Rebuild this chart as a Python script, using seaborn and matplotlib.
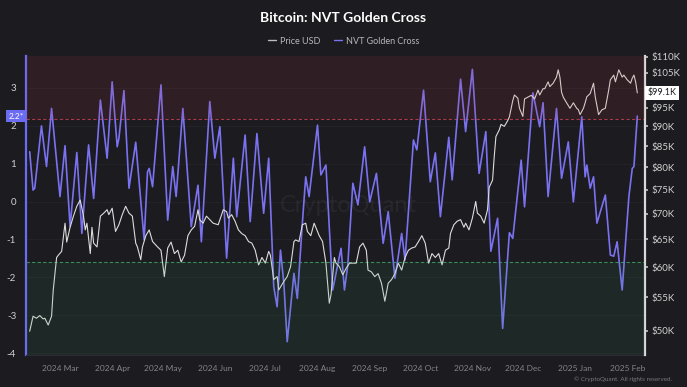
"""
    Bitcoin price vs NVT Golden Cross, dark CryptoQuant style chart.
"""

import pandas as pd
import matplotlib
matplotlib.use('Agg')
import matplotlib.pyplot as plt
import matplotlib.dates as mdates
import matplotlib.ticker as mticker
from matplotlib import transforms
from matplotlib.lines import Line2D
from matplotlib.patches import Rectangle
import seaborn as sns

# NVT Golden Cross (left axis)
nvt_dates = [
    '2024-02-12', '2024-02-14', '2024-02-15', '2024-02-19', '2024-02-22', '2024-02-25',
    '2024-03-01', '2024-03-04', '2024-03-07', '2024-03-11', '2024-03-14', '2024-03-18',
    '2024-03-21', '2024-03-25', '2024-03-29', '2024-04-01', '2024-04-04', '2024-04-05',
    '2024-04-08', '2024-04-11', '2024-04-15', '2024-04-20', '2024-04-22', '2024-04-23',
    '2024-04-25', '2024-04-30', '2024-05-04', '2024-05-07', '2024-05-09', '2024-05-13',
    '2024-05-18', '2024-05-22', '2024-05-24', '2024-05-29', '2024-06-01', '2024-06-04',
    '2024-06-08', '2024-06-12', '2024-06-14', '2024-06-19', '2024-06-22', '2024-06-26',
    '2024-06-30', '2024-07-03', '2024-07-06', '2024-07-08', '2024-07-10', '2024-07-12',
    '2024-07-14', '2024-07-18', '2024-07-20', '2024-07-23', '2024-07-25', '2024-07-27',
    '2024-08-01', '2024-08-03', '2024-08-06', '2024-08-10', '2024-08-15', '2024-08-17',
    '2024-08-19', '2024-08-22', '2024-08-25', '2024-08-29', '2024-09-01', '2024-09-05',
    '2024-09-09', '2024-09-12', '2024-09-16', '2024-09-20', '2024-09-22', '2024-09-27',
    '2024-09-29', '2024-10-03', '2024-10-07', '2024-10-10', '2024-10-13', '2024-10-18',
    '2024-10-20', '2024-10-25', '2024-10-28', '2024-11-01', '2024-11-05', '2024-11-09',
    '2024-11-12', '2024-11-16', '2024-11-19', '2024-11-23', '2024-11-25', '2024-11-30',
    '2024-12-02', '2024-12-07', '2024-12-11', '2024-12-13', '2024-12-16', '2024-12-21',
    '2024-12-24', '2024-12-28', '2024-12-31', '2025-01-05', '2025-01-07', '2025-01-08',
    '2025-01-10', '2025-01-12', '2025-01-14', '2025-01-19', '2025-01-22', '2025-01-24',
    '2025-01-26', '2025-01-29', '2025-02-02', '2025-02-04', '2025-02-05', '2025-02-07',
]
nvt_values = [
    1.31, 0.30, 0.35, 1.99, 0.92, 2.45,
    0.13, 1.47, -0.66, 1.29, -0.84, 1.49,
    0.08, 2.67, 1.14, 3.15, 1.44, 1.66,
    2.92, 0.35, 1.56, -1.01, 0.78, 0.87,
    0.39, 3.07, -0.49, 0.92, 0.13, 2.45,
    -0.66, 0.43, -1.06, 2.63, 1.14, 1.97,
    -1.49, 1.14, -0.40, 1.75, -0.53, 1.79,
    -0.31, 1.14, -2.24, -2.77, -1.28, -2.15,
    -3.69, -1.89, -2.55, -0.57, 0.65, 0.13,
    2.01, 0.70, 0.96, -2.33, -1.23, -2.33,
    -1.67, 0.48, -0.09, 1.44, -0.01, 0.74,
    -1.10, -0.27, -2.02, -0.84, -1.54, 1.62,
    1.36, 2.93, 0.52, 1.28, -0.40, 1.69,
    0.57, 3.22, 1.84, 3.48, 0.74, 1.84,
    -1.31, -0.44, -3.34, -0.82, -0.97, 1.09,
    -0.14, 2.86, 1.97, 2.60, 0.13, 2.45,
    0.61, 1.57, -0.01, 2.23, 0.65, 0.96,
    0.35, 0.65, -0.57, 0.17, -1.41, -1.44,
    -1.06, -2.33, 0.13, 0.87, 0.92, 2.25,
]

# BTC price in thousands of USD (right axis)
price_dates = [
    '2024-02-12', '2024-02-14', '2024-02-16', '2024-02-18', '2024-02-20', '2024-02-21',
    '2024-02-23', '2024-02-25', '2024-02-26', '2024-02-28', '2024-02-29', '2024-03-02',
    '2024-03-04', '2024-03-05', '2024-03-07', '2024-03-09', '2024-03-11', '2024-03-13',
    '2024-03-15', '2024-03-16', '2024-03-17', '2024-03-19', '2024-03-20', '2024-03-21',
    '2024-03-23', '2024-03-25', '2024-03-27', '2024-03-29', '2024-03-30', '2024-04-01',
    '2024-04-03', '2024-04-05', '2024-04-07', '2024-04-09', '2024-04-11', '2024-04-13',
    '2024-04-15', '2024-04-16', '2024-04-18', '2024-04-19', '2024-04-21', '2024-04-23',
    '2024-04-25', '2024-04-28', '2024-04-30', '2024-05-02', '2024-05-04', '2024-05-06',
    '2024-05-08', '2024-05-10', '2024-05-12', '2024-05-14', '2024-05-16', '2024-05-18',
    '2024-05-20', '2024-05-22', '2024-05-23', '2024-05-25', '2024-05-27', '2024-05-29',
    '2024-05-31', '2024-06-03', '2024-06-06', '2024-06-08', '2024-06-09', '2024-06-11',
    '2024-06-13', '2024-06-15', '2024-06-17', '2024-06-19', '2024-06-21', '2024-06-23',
    '2024-06-25', '2024-06-27', '2024-06-29', '2024-07-01', '2024-07-03', '2024-07-04',
    '2024-07-06', '2024-07-08', '2024-07-09', '2024-07-12', '2024-07-14', '2024-07-16',
    '2024-07-18', '2024-07-19', '2024-07-21', '2024-07-23', '2024-07-25', '2024-07-26',
    '2024-07-28', '2024-07-30', '2024-07-31', '2024-08-02', '2024-08-04', '2024-08-06',
    '2024-08-08', '2024-08-09', '2024-08-11', '2024-08-12', '2024-08-14', '2024-08-16',
    '2024-08-18', '2024-08-20', '2024-08-22', '2024-08-24', '2024-08-26', '2024-08-28',
    '2024-08-30', '2024-08-31', '2024-09-02', '2024-09-04', '2024-09-06', '2024-09-08',
    '2024-09-10', '2024-09-12', '2024-09-14', '2024-09-16', '2024-09-18', '2024-09-20',
    '2024-09-22', '2024-09-24', '2024-09-26', '2024-09-28', '2024-09-30', '2024-10-02',
    '2024-10-04', '2024-10-06', '2024-10-08', '2024-10-10', '2024-10-12', '2024-10-14',
    '2024-10-16', '2024-10-18', '2024-10-19', '2024-10-21', '2024-10-23', '2024-10-25',
    '2024-10-27', '2024-10-28', '2024-10-30', '2024-11-01', '2024-11-03', '2024-11-04',
    '2024-11-06', '2024-11-08', '2024-11-10', '2024-11-11', '2024-11-13', '2024-11-14',
    '2024-11-15', '2024-11-17', '2024-11-18', '2024-11-20', '2024-11-22', '2024-11-23',
    '2024-11-25', '2024-11-26', '2024-11-28', '2024-11-29', '2024-12-01', '2024-12-02',
    '2024-12-04', '2024-12-06', '2024-12-08', '2024-12-10', '2024-12-11', '2024-12-13',
    '2024-12-14', '2024-12-16', '2024-12-17', '2024-12-19', '2024-12-21', '2024-12-22',
    '2024-12-23', '2024-12-24', '2024-12-25', '2024-12-27', '2024-12-29', '2024-12-31',
    '2025-01-02', '2025-01-03', '2025-01-04', '2025-01-06', '2025-01-07', '2025-01-08',
    '2025-01-10', '2025-01-12', '2025-01-13', '2025-01-14', '2025-01-15', '2025-01-17',
    '2025-01-19', '2025-01-21', '2025-01-22', '2025-01-24', '2025-01-25', '2025-01-27',
    '2025-01-29', '2025-01-30', '2025-02-01', '2025-02-03', '2025-02-04', '2025-02-05',
    '2025-02-06', '2025-02-07',
]
price_k = [
    49.9, 52.1, 51.8, 52.2, 51.7, 51.8,
    50.8, 52.1, 56.2, 61.7, 62.1, 62.8,
    68.1, 64.5, 67.3, 69.5, 71.5, 72.8,
    69.5, 66.8, 68.1, 62.4, 67.3, 64.3,
    63.6, 69.5, 70.1, 70.8, 69.8, 71.1,
    66.5, 67.8, 69.8, 71.5, 70.1, 69.5,
    64.3, 63.6, 61.3, 63.6, 65.7, 66.8,
    64.6, 63.6, 63.0, 58.4, 63.4, 64.5,
    62.4, 63.0, 60.9, 62.1, 65.7, 66.8,
    67.5, 70.8, 68.8, 68.1, 69.5, 68.8,
    68.1, 67.8, 70.8, 70.4, 69.1, 69.8,
    68.5, 66.8, 66.1, 65.7, 64.6, 64.3,
    63.0, 60.4, 61.7, 60.7, 62.8, 62.1,
    57.9, 58.4, 56.2, 57.6, 58.4, 60.1,
    64.6, 64.9, 64.6, 67.8, 68.1, 66.5,
    65.7, 68.1, 67.3, 65.7, 64.6, 60.7,
    54.1, 55.4, 61.7, 60.7, 60.1, 58.7,
    59.8, 60.7, 60.7, 60.7, 63.6, 64.3,
    63.0, 59.5, 59.2, 58.4, 58.9, 57.3,
    54.4, 57.3, 57.9, 58.9, 60.7, 59.5,
    61.7, 63.0, 63.4, 63.6, 64.6, 65.7,
    64.3, 60.7, 62.4, 61.7, 62.4, 60.4,
    63.0, 63.4, 66.1, 67.8, 68.5, 68.8,
    67.3, 68.1, 66.8, 69.1, 72.5, 70.1,
    69.5, 68.1, 70.8, 75.5, 77.1, 82.5,
    87.4, 89.1, 90.5, 90.0, 91.5, 92.5,
    96.9, 98.5, 97.6, 94.8, 92.6, 97.4,
    97.9, 98.4, 97.4, 99.9, 98.5, 100.3,
    100.3, 102.3, 100.9, 101.9, 103.7, 105.9,
    103.7, 99.3, 97.9, 96.3, 94.8, 96.3,
    94.8, 94.4, 93.1, 94.8, 96.3, 98.0,
    98.9, 101.9, 98.0, 95.5, 93.1, 94.4,
    94.8, 99.9, 102.9, 104.3, 102.3, 105.9,
    103.7, 104.3, 102.9, 101.9, 103.4, 104.3,
    102.3, 99.1,
]

nvt_ticks = [-4, -3, -2, -1, 0, 1, 2, 3]
# the $100K tick is hidden behind the last-value tag in the original
price_ticks = [50, 55, 60, 65, 70, 75, 80, 85, 90, 95, 105, 110]
month_ticks = pd.date_range('2024-03-01', '2025-02-01', freq='MS')

RED_LEVEL = 2.16
GREEN_LEVEL = -1.6

BG = '#1b1b20'
NVT_COLOR = '#7a72f0'
PRICE_COLOR = '#dcdcdc'


def plot_chart():
    sns.set_theme(style='dark')
    plt.rcParams['font.family'] = ['Lato', 'DejaVu Sans']
    plt.rcParams['axes.unicode_minus'] = False

    nvt_df = pd.DataFrame({'date': pd.to_datetime(nvt_dates), 'nvt': nvt_values})
    price_df = pd.DataFrame({'date': pd.to_datetime(price_dates), 'price': price_k})

    fig, ax = plt.subplots(figsize=(6.87, 3.87), dpi=100)
    fig.patch.set_facecolor(BG)
    ax.set_facecolor(BG)
    fig.subplots_adjust(left=0.0378, right=0.9389, bottom=0.0827, top=0.8553)
    ax2 = ax.twinx()

    # zone threshold lines
    ax.axhline(RED_LEVEL, color='#a83a4a', lw=0.8, ls=(0, (3, 2)), zorder=1)
    ax.axhline(GREEN_LEVEL, color='#3d8a58', lw=0.8, ls=(0, (3, 2)), zorder=1)

    sns.lineplot(data=nvt_df, x='date', y='nvt', ax=ax, color=NVT_COLOR,
                 linewidth=1.2, legend=False, zorder=3,
                 solid_joinstyle='round', solid_capstyle='round')
    sns.lineplot(data=price_df, x='date', y='price', ax=ax2, color=PRICE_COLOR,
                 linewidth=0.8, legend=False, zorder=3)

    ax.set_xlim(pd.Timestamp('2024-02-09 19:00'), pd.Timestamp('2025-02-11 14:00'))
    ax.set_ylim(-4.04, 3.83)
    ax2.set_yscale('log')
    ax2.set_ylim(46.6, 110.2)

    # shaded zones drawn above the lines (they tint them slightly)
    trans = transforms.blended_transform_factory(ax2.transAxes, ax.transData)
    ax2.add_patch(Rectangle((0, RED_LEVEL), 1, 10, transform=trans,
                            facecolor='#c03a3a', alpha=0.12, edgecolor='none', zorder=5))
    ax2.add_patch(Rectangle((0, -10), 1, 10 + GREEN_LEVEL, transform=trans,
                            facecolor='#3aa060', alpha=0.10, edgecolor='none', zorder=5))

    # axes styling
    ax.set_xlabel('')
    ax.set_ylabel('')
    ax2.set_ylabel('')
    ax.set_yticks(nvt_ticks)
    ax.set_xticks(month_ticks)
    ax.xaxis.set_major_formatter(mdates.DateFormatter('%Y %b'))
    ax.grid(axis='y', color='#24242a', lw=0.6)
    ax.grid(axis='x', visible=False)
    ax2.grid(False)

    ax2.yaxis.set_major_locator(mticker.FixedLocator(price_ticks))
    ax2.yaxis.set_minor_locator(mticker.NullLocator())
    ax2.yaxis.set_major_formatter(mticker.FuncFormatter(lambda v, _: f'${v:.0f}K'))

    ax.tick_params(axis='y', labelcolor='#d0d0d0', labelsize=7, length=0, pad=7)
    ax.tick_params(axis='x', labelcolor='#858585', labelsize=6, length=2,
                   color='#3a3a40', pad=5)
    ax2.tick_params(axis='y', labelcolor='#d0d0d0', labelsize=7, length=2,
                    color='#bdbdbd', pad=3)

    for side in ['top', 'right']:
        ax.spines[side].set_visible(False)
    ax.spines['left'].set_color('#6c6cf2')
    ax.spines['left'].set_linewidth(1.6)
    ax.spines['bottom'].set_color('#2c2c33')
    ax.spines['bottom'].set_linewidth(0.8)
    for side in ['top', 'left', 'bottom']:
        ax2.spines[side].set_visible(False)
    ax2.spines['right'].set_color('#d9d9d9')
    ax2.spines['right'].set_linewidth(1.6)

    # last value tags on each axis
    tag_left = transforms.blended_transform_factory(ax.transAxes, ax.transData)
    ax.text(-0.004, nvt_values[-1], f'{nvt_values[-1]:.1f}*', transform=tag_left,
            ha='right', va='center', fontsize=6, color='white', zorder=10, clip_on=False,
            bbox=dict(boxstyle='square,pad=0.3', fc='#6c6cf2', ec='none'))
    tag_right = transforms.blended_transform_factory(ax2.transAxes, ax2.transData)
    ax2.text(1.004, price_k[-1], f'${price_k[-1]:.1f}K', transform=tag_right,
             ha='left', va='center', fontsize=6.5, color='#1b1b20', zorder=10, clip_on=False,
             bbox=dict(boxstyle='square,pad=0.25', fc='white', ec='none'))

    # watermark
    ax2.text(0.52, 0.5, 'CryptoQuant', transform=ax2.transAxes, ha='center', va='center',
             fontsize=17, color='white', alpha=0.05, zorder=2)

    # title and legend
    fig.text(0.5, 0.953, 'Bitcoin: NVT Golden Cross', ha='center', va='center',
             fontsize=10, fontweight='bold', color='white')
    handles = [Line2D([], [], color='#bdbdbd', lw=1), Line2D([], [], color=NVT_COLOR, lw=1)]
    fig.legend(handles, ['Price USD', 'NVT Golden Cross'], loc='center',
               bbox_to_anchor=(0.5, 0.894), ncol=2, frameon=False, fontsize=6.5,
               labelcolor='#b8b8b8', handlelength=0.9, handletextpad=0.4,
               columnspacing=1.5)

    fig.text(0.978, 0.02, '© CryptoQuant. All rights reserved.', ha='right', va='center',
             fontsize=4.5, color='#7a7a7a')

    fig.savefig('out.png', dpi=100, facecolor=fig.get_facecolor())
    plt.close(fig)


if __name__ == "__main__":
    plot_chart()
